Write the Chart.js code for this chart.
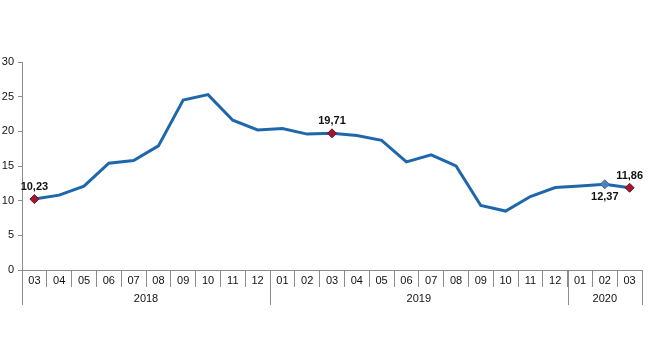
<!DOCTYPE html>
<html>
<head>
<meta charset="utf-8">
<script src="https://cdn.jsdelivr.net/npm/chart.js@4/dist/chart.umd.min.js"></script>
<style>
  html, body { margin: 0; padding: 0; background: #fff; }
  #wrap { width: 650px; height: 360px; position: relative; }
</style>
</head>
<body>
<div id="wrap"><canvas id="chart"></canvas></div>
<script>
const months = ['03','04','05','06','07','08','09','10','11','12',
                '01','02','03','04','05','06','07','08','09','10','11','12',
                '01','02','03'];
const yearLabels = ['2018', '2019', '2020'];
const yearCounts = [10, 12, 3];
const values = [10.23, 10.8, 12.1, 15.4, 15.8, 17.9, 24.5, 25.3, 21.6, 20.2,
                20.4, 19.6, 19.71, 19.4, 18.7, 15.6, 16.6, 15.0, 9.3, 8.5, 10.6, 11.9,
                12.1, 12.37, 11.86];
// points that get a marker + value label
const labelAbove = [0, 12, 24];
const labelBelow = [23];

const FONT = '"Liberation Sans", Arial, sans-serif';
const AXIS = '#8c8c8c';

function fmt(v) {
    return v.toFixed(2).replace('.', ',');
}

const pointRadius = values.map((_, i) => (labelAbove.includes(i) || labelBelow.includes(i)) ? 4.5 : 0);
const pointColor = values.map((_, i) => labelBelow.includes(i) ? '#4f81bd' : '#a0182e');
const pointBorder = values.map((_, i) => labelBelow.includes(i) ? '#3a6aa6' : '#6e0f1f');

// year row under the month labels
const yearRowPlugin = {
    id: 'yearRow',
    afterDraw(chart) {
        const x = chart.scales.x;
        const ctx = chart.ctx;
        const bottom = chart.chartArea.bottom;
        const step = x.getPixelForValue(1) - x.getPixelForValue(0);
        ctx.save();
        ctx.strokeStyle = AXIS;
        ctx.lineWidth = 1;
        ctx.fillStyle = '#111';
        ctx.font = '11px ' + FONT;
        ctx.textAlign = 'center';
        ctx.textBaseline = 'middle';
        let start = 0;
        yearLabels.forEach((year, k) => {
            const end = start + yearCounts[k] - 1;
            const left = x.getPixelForValue(start) - step / 2;
            const right = x.getPixelForValue(end) + step / 2;
            [left, right].forEach(px => {
                const p = Math.round(px) + 0.5;
                ctx.beginPath();
                ctx.moveTo(p, bottom);
                ctx.lineTo(p, bottom + 35);
                ctx.stroke();
            });
            ctx.fillText(year, (left + right) / 2, bottom + 29);
            start = end + 1;
        });
        ctx.restore();
    }
};

const valueLabelPlugin = {
    id: 'valueLabels',
    afterDatasetsDraw(chart) {
        const meta = chart.getDatasetMeta(0);
        const ctx = chart.ctx;
        ctx.save();
        ctx.font = 'bold 11px ' + FONT;
        ctx.fillStyle = '#111';
        ctx.textAlign = 'center';
        ctx.textBaseline = 'middle';
        labelAbove.concat(labelBelow).forEach(i => {
            const pt = meta.data[i];
            const dy = labelBelow.includes(i) ? 13 : -12;
            let px = pt.x;
            const w = ctx.measureText(fmt(values[i])).width;
            if (px + w / 2 > chart.width - 2) px = chart.width - 2 - w / 2;
            if (px - w / 2 < 2) px = 2 + w / 2;
            ctx.fillText(fmt(values[i]), px, pt.y + dy);
        });
        ctx.restore();
    }
};

new Chart(document.getElementById('chart'), {
    type: 'line',
    data: {
        labels: months,
        datasets: [{
            data: values,
            borderColor: '#1f67ac',
            borderWidth: 3,
            tension: 0,
            fill: false,
            pointStyle: 'rectRot',
            pointRadius: pointRadius,
            pointBackgroundColor: pointColor,
            pointBorderColor: pointBorder,
            pointBorderWidth: 1
        }]
    },
    options: {
        responsive: true,
        maintainAspectRatio: false,
        animation: false,
        layout: { padding: { top: 62, right: 8, left: 0, bottom: 0 } },
        plugins: { legend: { display: false }, tooltip: { enabled: false } },
        scales: {
            x: {
                offset: true,
                grid: {
                    offset: true,
                    drawOnChartArea: false,
                    drawTicks: true,
                    tickLength: 17,
                    color: AXIS
                },
                border: { color: AXIS },
                ticks: {
                    padding: -13,
                    autoSkip: false,
                    maxRotation: 0,
                    color: '#111',
                    font: { family: FONT, size: 11 }
                },
                afterFit(scale) { scale.height = 90; }
            },
            y: {
                min: 0,
                max: 30,
                ticks: {
                    stepSize: 5,
                    padding: 4,
                    color: '#111',
                    font: { family: FONT, size: 11 }
                },
                grid: {
                    drawOnChartArea: false,
                    drawTicks: true,
                    tickLength: 4,
                    color: AXIS
                },
                border: { color: AXIS },
                afterFit(scale) { scale.width = 22; }
            }
        }
    },
    plugins: [yearRowPlugin, valueLabelPlugin]
});
</script>
</body>
</html>
